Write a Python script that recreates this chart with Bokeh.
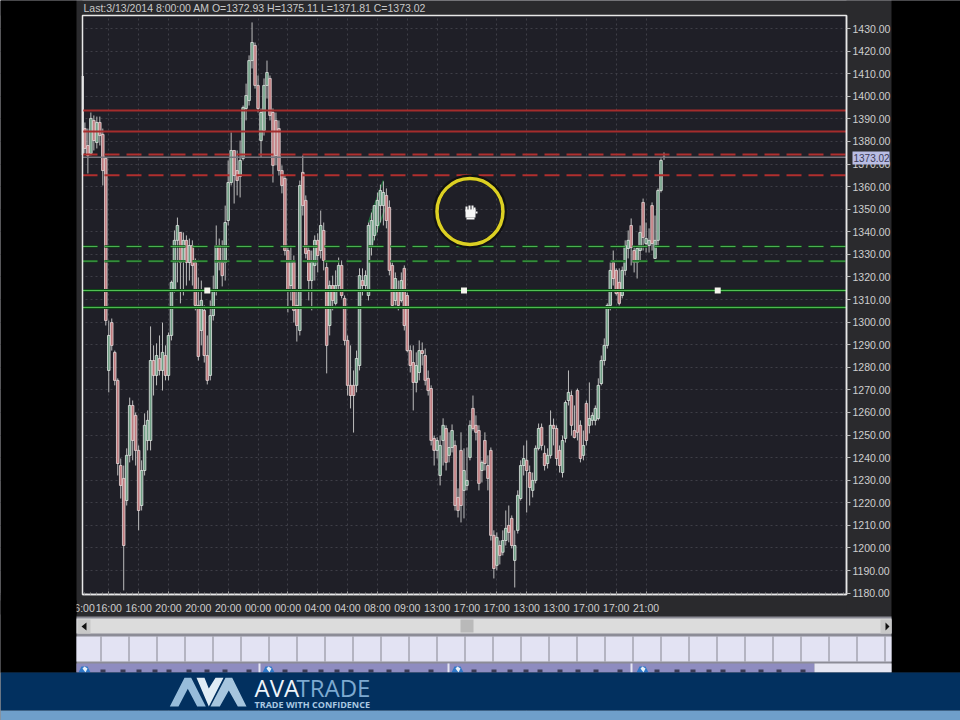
from bokeh.plotting import figure
from bokeh.embed import file_html
from bokeh.resources import INLINE
from bokeh.models import BoxAnnotation, Label, FixedTicker, Range1d, PolyAnnotation

open_ = [1385.7,1378.2,1374.7,1389.3,1379.5,1388.4,1383.1,1372.5,1278.6,1299.8,1286.6,1274.2,1236.5,1230.8,1221.0,1241.0,1263.1,1258.7,1243.2,1218.8,
1234.3,1247.6,1247.6,1283.0,1276.4,1283.9,1278.6,1285.2,1276.4,1294.1,1314.0,1336.2,1339.7,1327.3,1336.2,1326.4,1333.9,1326.4,1307.4,1296.3,
1305.2,1285.2,1276.4,1302.9,1314.0,1333.9,1326.4,1326.4,1345.0,1361.8,1376.0,1367.1,1364.5,1372.5,1394.6,1398.1,1415.8,1422.5,1404.8,1380.4,
1384.8,1404.8,1407.9,1392.8,1389.3,1385.7,1367.1,1363.6,1331.7,1316.2,1326.4,1307.4,1296.3,1366.3,1353.9,1331.7,1318.4,1325.1,1336.2,1331.7,
1340.6,1324.2,1298.5,1316.2,1308.3,1316.2,1325.1,1310.5,1291.9,1272.0,1272.0,1272.0,1280.8,1318.4,1316.2,1311.8,1333.7,1338.4,1342.8,1351.6,
1351.6,1356.1,1350.8,1325.1,1309.6,1314.0,1309.6,1323.8,1311.8,1287.4,1282.1,1273.3,1277.7,1287.4,1285.2,1275.1,1270.6,1248.5,1243.2,1232.1,
1247.6,1252.9,1241.0,1244.5,1245.4,1222.4,1243.2,1225.5,1227.7,1240.1,1261.8,1254.3,1252.0,1234.3,1247.6,1236.5,1243.2,1205.6,1192.3,1201.1,
1198.1,1203.3,1210.0,1213.1,1194.5,1207.8,1221.9,1236.5,1238.8,1233.4,1225.5,1229.9,1244.1,1253.4,1241.9,1237.4,1241.0,1254.3,1252.9,1243.2,
1233.4,1248.5,1265.3,1267.5,1252.0,1269.7,1254.3,1241.0,1264.0,1254.3,1256.5,1256.5,1257.3,1272.8,1283.0,1289.7,1307.4,1326.4,1322.9,1317.6,
1311.8,1322.9,1332.6,1342.8,1331.7,1326.4,1331.7,1353.0,1334.8,1333.9,1351.6,1328.2,1336.2,1358.3,1372.93]
high = [1388.4,1385.7,1392.8,1391.5,1391.0,1391.0,1385.7,1372.9,1300.7,1301.6,1287.4,1275.1,1239.6,1236.5,1244.1,1266.6,1265.3,1260.0,1245.4,1238.8,
1259.6,1260.9,1298.1,1289.7,1290.6,1294.1,1299.8,1289.7,1295.4,1318.4,1340.6,1346.3,1339.7,1339.7,1338.4,1337.0,1336.2,1328.2,1319.8,1318.4,
1307.4,1294.1,1309.6,1320.6,1342.8,1337.0,1336.2,1351.6,1371.6,1384.0,1376.0,1376.0,1380.4,1395.9,1405.6,1418.1,1432.7,1423.8,1409.2,1394.6,
1407.9,1415.8,1409.2,1394.6,1392.8,1389.3,1369.4,1364.9,1333.1,1333.9,1329.5,1314.0,1362.7,1373.8,1356.1,1333.9,1331.7,1338.4,1339.3,1349.4,
1344.1,1326.4,1318.4,1320.6,1322.9,1328.6,1327.3,1311.8,1294.1,1289.7,1278.6,1287.4,1323.8,1323.8,1322.9,1344.1,1348.5,1351.6,1357.4,1360.9,
1362.3,1359.2,1353.9,1326.4,1322.0,1318.4,1322.0,1325.1,1313.1,1289.7,1289.7,1286.6,1291.9,1291.0,1288.3,1278.6,1272.0,1249.8,1249.0,1249.8,
1257.4,1254.3,1251.2,1254.7,1247.6,1226.4,1251.2,1244.1,1244.5,1256.5,1267.5,1258.7,1254.3,1238.8,1251.2,1241.0,1244.5,1207.8,1206.9,1203.3,
1207.8,1216.6,1218.8,1214.4,1207.8,1225.5,1238.8,1245.4,1247.6,1236.5,1233.4,1245.4,1255.1,1255.1,1245.4,1244.1,1260.9,1257.3,1254.3,1245.4,
1249.8,1265.3,1278.6,1269.7,1263.1,1270.6,1256.5,1252.0,1265.3,1273.3,1260.0,1263.1,1275.1,1285.2,1292.8,1308.3,1326.4,1331.7,1323.8,1323.8,
1324.6,1336.2,1340.6,1345.9,1333.9,1333.9,1342.8,1354.7,1344.1,1341.5,1353.0,1347.2,1359.2,1372.5,1375.11]
low = [1374.7,1365.8,1373.8,1376.0,1376.9,1378.2,1360.5,1298.5,1268.9,1287.4,1272.0,1232.1,1221.9,1181.2,1218.8,1237.9,1238.8,1236.5,1207.8,1216.6,
1232.1,1243.2,1243.2,1267.5,1272.0,1276.4,1269.7,1274.2,1274.2,1291.9,1313.1,1317.6,1308.3,1311.8,1316.2,1318.4,1316.2,1305.2,1283.0,1289.7,
1282.1,1272.4,1274.2,1300.7,1311.8,1322.9,1315.8,1318.4,1342.8,1360.5,1352.5,1356.1,1355.2,1371.6,1389.3,1395.9,1412.3,1403.4,1392.8,1372.9,
1382.6,1399.0,1389.3,1361.8,1369.4,1364.9,1357.0,1329.5,1304.3,1309.6,1299.8,1291.4,1294.1,1347.2,1328.2,1309.6,1305.2,1318.4,1322.0,1328.2,
1322.9,1277.3,1294.1,1305.2,1307.4,1314.0,1310.5,1289.7,1267.5,1261.8,1251.1,1268.9,1278.6,1311.8,1314.0,1309.6,1329.5,1336.2,1339.7,1344.1,
1342.8,1341.5,1320.7,1306.1,1307.4,1305.2,1308.7,1296.3,1286.6,1277.7,1260.9,1268.9,1274.2,1280.8,1272.0,1267.5,1245.4,1236.5,1239.6,1227.7,
1236.5,1234.3,1237.9,1242.3,1216.6,1213.5,1211.3,1213.1,1225.5,1238.8,1252.0,1247.6,1225.5,1229.0,1234.3,1225.5,1203.3,1186.5,1190.1,1192.7,
1196.7,1201.1,1202.5,1199.8,1182.5,1206.4,1221.0,1232.1,1215.7,1218.8,1222.4,1228.6,1243.2,1243.2,1234.3,1235.2,1239.6,1245.4,1236.5,1233.4,
1231.2,1246.7,1263.1,1249.8,1248.5,1247.6,1237.9,1238.8,1245.4,1250.7,1254.3,1254.3,1256.5,1272.0,1280.8,1288.3,1305.2,1316.2,1311.8,1307.4,
1310.5,1320.7,1328.2,1325.1,1322.0,1319.3,1327.3,1331.7,1330.8,1330.8,1331.7,1328.2,1333.9,1357.4,1371.81]
close = [1376.9,1373.8,1390.2,1380.4,1388.4,1382.6,1367.1,1300.7,1294.1,1289.7,1274.2,1237.4,1227.7,1201.1,1241.0,1263.1,1247.6,1243.2,1216.6,1234.3,
1254.3,1256.5,1283.0,1276.4,1285.2,1278.6,1286.6,1276.4,1294.1,1317.6,1336.2,1342.8,1326.4,1336.2,1326.4,1333.9,1325.1,1307.4,1284.8,1309.6,
1285.2,1274.2,1302.9,1314.0,1333.9,1326.4,1320.6,1344.1,1361.8,1376.0,1364.9,1362.7,1371.6,1395.0,1400.3,1415.8,1423.8,1404.8,1394.6,1392.8,
1404.8,1410.5,1391.5,1369.4,1373.8,1367.1,1360.5,1331.7,1314.0,1327.3,1305.2,1298.5,1360.5,1351.6,1330.4,1318.4,1326.4,1336.2,1329.5,1342.8,
1327.3,1289.7,1316.2,1309.6,1316.2,1325.1,1311.8,1291.9,1272.0,1267.5,1267.5,1283.9,1320.6,1316.2,1320.6,1342.8,1345.0,1351.6,1353.9,1358.3,
1357.4,1345.0,1322.9,1307.4,1319.3,1307.4,1318.4,1298.5,1287.4,1280.8,1273.3,1280.8,1287.4,1286.1,1274.2,1269.7,1247.6,1243.2,1247.6,1245.4,
1254.3,1237.9,1244.5,1252.0,1218.8,1216.6,1218.8,1234.3,1229.9,1254.3,1252.9,1251.2,1228.6,1237.9,1237.4,1230.8,1205.6,1190.9,1204.7,1196.7,
1203.3,1208.7,1206.9,1201.1,1201.1,1223.3,1236.5,1239.6,1234.3,1226.8,1229.9,1244.1,1252.9,1245.4,1236.5,1241.0,1254.3,1252.9,1239.6,1236.5,
1247.6,1264.4,1268.9,1254.3,1248.9,1251.2,1239.6,1245.4,1247.6,1257.3,1258.7,1261.8,1272.0,1283.0,1289.7,1307.4,1322.9,1319.3,1312.7,1308.3,
1322.9,1333.9,1336.2,1333.0,1326.4,1332.6,1339.7,1337.5,1337.0,1336.2,1334.8,1336.2,1358.3,1371.6,1373.02]

tick_pos = [8,18,28,38,48,58,68,78,88,98,108,118,128,138,148,158,168,178,188]
tick_txt = ["16:00","16:00","20:00","20:00","20:00","00:00","00:00","04:00","04:00","08:00","09:00","13:00","17:00","17:00","13:00","13:00","17:00","17:00","21:00"]
price_ticks = [1180,1190,1200,1210,1220,1230,1240,1250,1260,1270,1280,1290,1300,1310,1320,1330,1340,1350,1360,1370,1380,1390,1400,1410,1420,1430]
red_solid = [1393.7,1384.4]
red_dash = [1374.2,1365.0]
green_dash = [1333.5,1327.0]
green_solid = [1314.0,1306.5]
last_price = 1373.02
left_spike = [1374.0,1409.0]
handle_x = [41,127,212]
handle_y = [1314.0,1314.0,1314.0]
trend_x0 = [95,96]; trend_y0 = [1344.1,1334.0]
trend_x1 = [100,101]; trend_y1 = [1362.7,1351.6]
title_txt = "Last:3/13/2014 8:00:00 AM O=1372.93 H=1375.11 L=1371.81 C=1373.02"

# plot area in data units, and how it sits on the 960x720 canvas
X0, X1, Y0, Y1 = -0.804, 255.14, 1179.4, 1435.76
PXX = 764 / (X1 - X0)
PXY = 579 / (Y1 - Y0)
p = figure(width=960, height=720, output_backend="svg", toolbar_location=None,
           x_range=Range1d(X0 - 82 / PXX, X0 + (960 - 82) / PXX),
           y_range=Range1d(Y0 - (720 - 594) / PXY, Y1 + 15 / PXY),
           x_axis_location="below", y_axis_location="right",
           min_border=0, background_fill_color="#1f1f27", border_fill_color="#000000")
p.outline_line_color = None

FONT = "Liberation Sans"
xa = p.xaxis[0]; ya = p.yaxis[0]
xa.fixed_location = Y0; ya.fixed_location = X1
xa.bounds = (X0, X1); ya.bounds = (Y0, Y1)
xa.ticker = FixedTicker(ticks=tick_pos, minor_ticks=list(range(0, 256, 2)))
xa.major_label_overrides = {t: s for t, s in zip(tick_pos, tick_txt)}
ya.ticker = FixedTicker(ticks=price_ticks)
ya.major_label_overrides = {t: f"{t:.2f}" for t in price_ticks}
for ax in (xa, ya):
    ax.axis_line_color = "#e8e8e8"; ax.axis_line_width = 1.5
    ax.major_label_text_color = "#cfcfcf"; ax.major_label_text_font = FONT
    ax.major_label_text_font_size = "10.5px"
    ax.major_tick_line_color = "#bdbdbd"; ax.minor_tick_line_color = "#8a8a8a"
xa.major_tick_in = 3; xa.major_tick_out = 0; xa.minor_tick_in = 2; xa.minor_tick_out = 0
xa.major_label_standoff = 7
ya.major_tick_in = 0; ya.major_tick_out = 4; ya.minor_tick_line_color = None
ya.major_label_standoff = 2
for g in (p.xgrid[0], p.ygrid[0]):
    g.grid_line_color = "#3e3e47"; g.grid_line_dash = "2 3"; g.grid_line_width = 1


def box(l, t, r, b, color, level="underlay"):
    p.add_layout(BoxAnnotation(left=l, right=r, top=t, bottom=b,
                               left_units="canvas", right_units="canvas", top_units="canvas", bottom_units="canvas",
                               fill_color=color, fill_alpha=1, line_color=None, level=level))


def txt(xp, yp, s, size, color, style="normal", font=FONT, **kw):
    p.add_layout(Label(x=xp, y=yp, x_units="canvas", y_units="canvas", text=s,
                       text_font=font, text_font_size=size, text_color=color, text_font_style=style,
                       text_baseline="middle", level="annotation", **kw))


def poly(xs, ys, color):
    p.add_layout(PolyAnnotation(xs=xs, ys=ys,
                                xs_units="canvas", ys_units="canvas", fill_color=color, fill_alpha=1,
                                line_color=None, level="underlay"))


# panel around the plot area: everything drawn after the grid covers it
PANEL = "#2a2a2d"
box(0, 0, 960, 15, PANEL)
box(0, 594, 960, 672, PANEL)
box(0, 0, 82, 672, PANEL)
box(846, 0, 960, 672, PANEL)
box(0, 0, 76, 672, "#000000")
box(891, 0, 960, 672, "#000000")

box(76, 616, 891, 672, "#8c8c96")
box(76, 618, 891, 633, "#dcdcdc")
box(77, 619, 90, 633, "#c8c8c8")
box(880, 619, 891, 633, "#c8c8c8")
poly([81, 86, 86], [626, 622, 630], "#111111")
poly([885, 889, 885], [622, 626, 630], "#111111")
box(460, 619, 473, 632, "#b9b9b9")
box(76, 636, 891, 661, "#e3e3f3")
for sx in range(100, 891, 28):
    box(sx, 636, sx + 1, 661, "#85858f")
box(76, 663, 814, 672, "#8e8cc0")
box(814, 663, 891, 672, "#e6e6f2")
for sx in [258, 447, 630]:
    box(sx, 663, sx + 2, 672, "#e6e6f2")
for sx in [78, 262, 451, 636]:
    poly([sx, sx + 3, sx + 9, sx + 12, sx + 12, sx], [672, 666, 666, 672, 672, 672], "#2f78c8")
    poly([sx + 4, sx + 6, sx + 9, sx + 7], [668, 666, 668, 672], "#e8f0f8")
for tab in [76, 258, 447, 630]:
    for dx in [24, 44, 60, 76, 90, 110, 128, 146, 170]:
        box(tab + dx, 669, tab + dx + 5, 672, "#3b3b55")

box(0, 672, 960, 710, "#02305f")
box(0, 710, 960, 720, "#6f9fca")
poly([169.3, 184, 190.7, 205.3, 196.7, 187.3, 178], [706, 677.3, 677.3, 706, 706, 688.3, 706], "#97bcda")
poly([196, 204, 208.3, 215, 223, 208.3], [677.3, 677.3, 688, 677.3, 677.3, 706], "#e0ecf5")
poly([210, 225, 231.7, 246, 237.3, 228.3, 219.3], [706, 677.3, 677.3, 706, 706, 690, 706], "#a6c5de")

x = list(range(len(close)))
p.segment(trend_x0, trend_y0, trend_x1, trend_y1, line_color="#1d6e3a", line_width=1.5)
p.segment([-0.72], [left_spike[0]], [-0.72], [left_spike[1]], line_color="#ffffff", line_width=2)
p.segment(x, low, x, high, line_color="#bcbcbc", line_width=1)
up = [i for i in x if close[i] >= open_[i]]
dn = [i for i in x if close[i] < open_[i]]
p.vbar(up, 0.85, [open_[i] for i in up], [close[i] for i in up],
       fill_color="#6f9f85", line_color="#dfe6e2", line_width=0.8)
p.vbar(dn, 0.85, [close[i] for i in dn], [open_[i] for i in dn],
       fill_color="#c07a7e", line_color="#e6d8d8", line_width=0.8)


def hline(values, color, width, dash="solid"):
    n = len(values)
    p.segment([X0] * n, values, [X1] * n, values, line_color=color, line_width=width, line_dash=dash)


hline(red_solid, "#a52c2c", 2)
hline([last_price], "#77777f", 1.5)
hline(red_dash, "#b02f2e", 2, "15 7")
hline(green_dash, "#0f4a17", 2.5, "15 7")
hline(green_dash, "#4fb455", 1, "15 7")
hline(green_solid, "#0f4a17", 3)
hline(green_solid, "#53bf55", 1)

# plot-area border, handles, marker ring
p.quad(left=[X0], right=[X1], bottom=[Y0], top=[Y1], fill_color=None, line_color="#e8e8e8", line_width=1.5)
p.scatter(handle_x, handle_y, marker="square", size=6, fill_color="#f4f4ec", line_color=None)
p.scatter([129], [1349], marker="circle", size=68, fill_color=None, line_color="#121212", line_width=6)
p.scatter([129], [1349], marker="circle", size=66, fill_color=None, line_color="#dcd023", line_width=3.5)

# hand cursor
for l, t, r, b in [(465, 209, 475, 217), (466, 217, 474, 219), (465, 206, 467, 211), (468, 205, 470, 211), (471, 205, 473, 211), (473, 207, 475, 211), (475, 211, 477, 213)]:
    box(l, t, r, b, "#f6f6f6", level="annotation")

txt(83, 7, title_txt, "10.5px", "#c9c9c9")
box(852, 151, 889, 164, "#b9bde4", level="annotation")
txt(853, 157.5, f"{last_price:.2f}", "10px", "#3a3a55")
txt(68, 607, "16:00", "10.5px", "#cfcfcf")
box(0, 600, 76, 614, "#000000", level="annotation")
txt(254, 687, "AVA", "24px", "#eef4fa", font="Open Sans")
txt(296, 687, "TRADE", "24px", "#7da9d0", font="Open Sans")
txt(254, 703.5, "TRADE WITH CONFIDENCE", "9px", "#a9c8e2", style="bold", font="Open Sans")

open("out.html", "w").write(file_html(p, INLINE))
